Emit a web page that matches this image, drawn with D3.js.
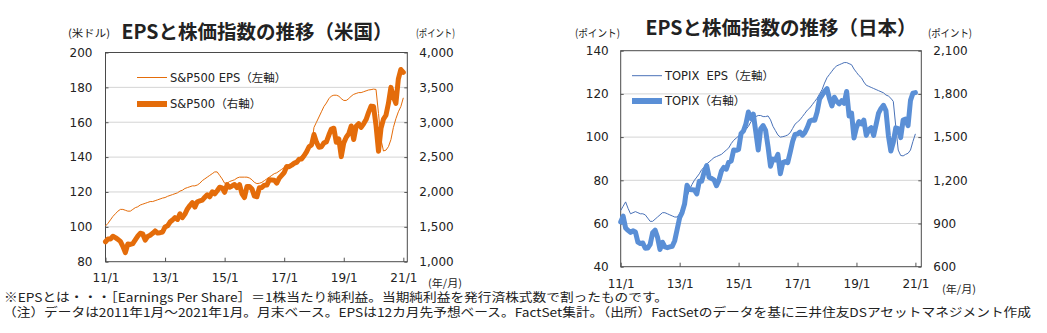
<!DOCTYPE html>
<html><head><meta charset="utf-8">
<script src="https://cdn.jsdelivr.net/npm/d3@7"></script>
<style>
html,body{margin:0;padding:0;background:#fff;}
svg{display:block;}
text{font-family:"DejaVu Sans","Noto Sans CJK JP",sans-serif;fill:#222;white-space:pre;}
.jp{font-family:"Noto Sans CJK JP","DejaVu Sans",sans-serif;}
</style></head>
<body>
<svg id="c" width="1047" height="333"></svg>
<script>
// ---------- DATA ----------
const xTickMonths = [0, 24, 48, 72, 96, 120];
const xTickLabels = ["11/1", "13/1", "15/1", "17/1", "19/1", "21/1"];

// S&P500 month-end (2011/1 - 2021/1)
const sp500 = [
 1286,1327,1326,1364,1345,1321,1292,1219,1131,1253,1247,1258,
 1312,1366,1408,1398,1310,1362,1379,1407,1441,1412,1416,1426,
 1498,1515,1569,1598,1631,1606,1686,1633,1682,1757,1806,1848,
 1783,1859,1872,1884,1924,1960,1931,2003,1972,2018,2068,2059,
 1995,2105,2068,2086,2107,2063,2104,1972,1920,2079,2080,2044,
 1940,1932,2060,2065,2097,2099,2174,2171,2168,2126,2199,2239,
 2279,2364,2363,2384,2412,2423,2470,2472,2519,2575,2648,2674,
 2824,2714,2641,2648,2705,2718,2816,2902,2914,2712,2760,2507,
 2704,2784,2834,2946,2752,2942,2980,2926,2977,3038,3141,3231,
 3226,2954,2585,2912,3044,3100,3271,3500,3363,3270,3622,3756,
 3714];
// S&P500 12m forward EPS (USD)
const spEps = [
 100.5,102,104,106,107.5,109,110,110,109.5,109,109,110,
 111,111.5,112.5,113,113.5,114,114.5,114.5,115,115.5,116,116.5,
 116.8,117.5,118,118.5,119,119.5,120.5,121,122,122.5,123,123.5,
 123.5,124,125,126.5,127.5,128.5,129.5,130.5,131.5,131.5,129.5,127.5,
 125,125,126,126.5,127,128,128.5,128.5,128.5,128.5,128,127,
 125.5,124.8,125,125.5,126.5,127.5,128.5,129.5,130.5,131,132,133,
 134,135,135.5,136.5,137.5,138.5,139.5,140.5,142,143.5,145,146,
 157,160,163,166,169,171,173.5,175,175.5,175.5,175,173.5,
 172.5,172.5,173.5,175,176,176.5,177,177,177.5,178,178.5,178.7,
 179,178.8,165,150,143.5,144,146,150,157,162,166,169,
 174];
// TOPIX month-end
const topix = [
 910,951,869,852,838,849,841,771,761,764,728,729,
 755,836,854,804,719,770,737,732,737,742,781,860,
 940,976,1035,1165,1136,1134,1132,1106,1194,1194,1259,1302,
 1221,1212,1203,1162,1201,1263,1289,1278,1326,1334,1410,1408,
 1415,1524,1543,1593,1674,1630,1660,1537,1411,1558,1580,1547,
 1432,1298,1347,1341,1380,1246,1323,1330,1323,1393,1469,1519,
 1522,1535,1513,1532,1568,1612,1619,1617,1675,1766,1792,1818,
 1837,1768,1716,1777,1747,1731,1753,1735,1817,1646,1667,1494,
 1567,1608,1592,1618,1512,1551,1565,1512,1588,1667,1699,1721,
 1684,1511,1403,1464,1564,1559,1496,1618,1625,1579,1755,1805,
 1809];
// TOPIX 12m forward EPS (points)
const topixEps = [
 66,68,70,67,64.5,65,65.5,65,64.5,64.5,64,62.5,
 61,61,62,63,64,65,65,64.5,64,63.5,63,63,
 64.5,67,69.5,72.5,75.5,78,80,81.5,83,85,86,87.5,
 88.5,89.5,90.5,91,91.5,92,93,94,95,97,98.5,99.5,
 100.5,101.5,102.5,103.5,105,107,108.5,109.5,110,110,109.5,109.5,
 109.8,108,105,103,101,100,100.2,100.5,101,102,104,106,
 107,108,109.5,111,112.5,113.5,115,116.5,118,120,122,125,
 127.5,129,130.5,132,133,133.5,134,134.5,134.5,134,133.5,131.5,
 130,128.5,127.5,125.5,124,123.5,123,122.5,122,121.5,121,120.5,
 119.5,119,118,116.5,105,94,91.5,91.3,92,92.5,94,98,
 101.5];

const usLeftTicks = [80,100,120,140,160,180,200];
const usRightTicks = [1000,1500,2000,2500,3000,3500,4000];
const jpLeftTicks = [40,60,80,100,120,140];
const jpRightTicks = [600,900,1200,1500,1800,2100];

const notes = [
 "※EPSとは・・・［Earnings Per Share］＝1株当たり純利益。当期純利益を発行済株式数で割ったものです。",
 "（注）データは2011年1月～2021年1月。月末ベース。EPSは12カ月先予想ベース。FactSet集計。（出所）FactSetのデータを基に三井住友DSアセットマネジメント作成"
];

// ---------- DRAW ----------
const svg = d3.select("#c");
svg.append("rect").attr("width",1047).attr("height",333).attr("fill","#fff");
const fmt = d3.format(",");

function unit(g, spec){
  g.append("text").attr("class","jp").attr("x",spec[0]).attr("y",spec[1])
    .attr("font-size",10.5).attr("fill","#333")
    .attr("textLength",spec[3]).attr("lengthAdjust","spacingAndGlyphs").text(spec[2]);
}

function drawChart(cfg){
  const g = svg.append("g");
  const x = d3.scaleLinear().domain([0, cfg.xMax]).range([cfg.x0, cfg.x1]);
  const yL = d3.scaleLinear().domain(d3.extent(cfg.leftTicks)).range([cfg.y1, cfg.y0]);
  const yR = d3.scaleLinear().domain(d3.extent(cfg.rightTicks)).range([cfg.y1, cfg.y0]);

  // gridlines
  g.selectAll(".grid").data(cfg.leftTicks.slice(1,-1)).join("line")
    .attr("x1",cfg.x0).attr("x2",cfg.x1)
    .attr("y1",d=>yL(d)).attr("y2",d=>yL(d))
    .attr("stroke","#d4d4d4").attr("stroke-width",1);

  const aL = g.append("g").attr("transform",`translate(${cfg.x0},0)`)
    .call(d3.axisLeft(yL).tickValues(cfg.leftTicks).tickSize(-3).tickPadding(cfg.lPad).tickFormat(d3.format("d")));
  const aR = g.append("g").attr("transform",`translate(${cfg.x1},0)`)
    .call(d3.axisRight(yR).tickValues(cfg.rightTicks).tickSize(-3).tickPadding(cfg.rPad).tickFormat(fmt));
  const aB = g.append("g").attr("transform",`translate(0,${cfg.y1})`)
    .call(d3.axisBottom(x).tickValues(xTickMonths).tickSize(-4).tickPadding(cfg.bPad).tickFormat((d,i)=>xTickLabels[i]));
  [aL,aR,aB].forEach(a=>{
    a.select(".domain").remove();
    a.selectAll(".tick line").attr("stroke","#555");
    a.selectAll("text").attr("font-size",12).attr("fill","#222")
      .style("font-family",'"DejaVu Sans",sans-serif');
  });
  g.append("rect").attr("x",cfg.x0).attr("y",cfg.y0)
    .attr("width",cfg.x1-cfg.x0).attr("height",cfg.y1-cfg.y0)
    .attr("fill","none").attr("stroke","#4a4a4a").attr("stroke-width",1);

  const lineL = d3.line().x((d,i)=>x(i)).y(d=>yL(d));
  const lineR = d3.line().x((d,i)=>x(i)).y(d=>yR(d));
  g.append("path").datum(cfg.eps).attr("d",lineL)
    .attr("fill","none").attr("stroke",cfg.thinColor).attr("stroke-width",1);
  g.append("path").datum(cfg.idx).attr("d",lineR)
    .attr("fill","none").attr("stroke",cfg.color).attr("stroke-width",5)
    .attr("stroke-linejoin","round").attr("stroke-linecap","round");

  const lg = cfg.legend;
  g.append("line").attr("x1",lg.x).attr("x2",lg.x+30).attr("y1",lg.y1).attr("y2",lg.y1)
    .attr("stroke",cfg.thinColor).attr("stroke-width",1);
  g.append("text").attr("x",lg.x+33).attr("y",lg.y1).attr("dy","0.36em")
    .attr("font-size",11.5).text(lg.t1);
  g.append("line").attr("x1",lg.x).attr("x2",lg.x+30).attr("y1",lg.y2).attr("y2",lg.y2)
    .attr("stroke",cfg.color).attr("stroke-width",6);
  g.append("text").attr("x",lg.x+33).attr("y",lg.y2).attr("dy","0.36em")
    .attr("font-size",11.5).text(lg.t2);

  g.append("text").attr("class","jp").attr("x",cfg.titleX).attr("y",cfg.titleY)
    .attr("text-anchor","middle").attr("font-size",19.5).attr("font-weight","bold")
    .attr("fill","#111").text(cfg.title);
  unit(g, cfg.uL); unit(g, cfg.uR); unit(g, cfg.ym);
}

drawChart({
  x0:105.5, x1:407.3, y0:52.5, y1:261.7, xMax:121.6,
  leftTicks:usLeftTicks, rightTicks:usRightTicks,
  lPad:13, rPad:12, bPad:12,
  eps:spEps, idx:sp500, color:"#E46C0A", thinColor:"#E46C0A",
  legend:{x:137, y1:77.5, y2:104, t1:"S&P500 EPS（左軸）", t2:"S&P500（右軸）"},
  title:"EPSと株価指数の推移（米国）", titleX:257, titleY:39,
  uL:[68,37,"(米ドル)",42], uR:[416,37,"(ポイント)",39], ym:[428,287,"(年/月)",34]
});
drawChart({
  x0:620.7, x1:921.3, y0:50.7, y1:266.7, xMax:122.4,
  leftTicks:jpLeftTicks, rightTicks:jpRightTicks,
  lPad:12, rPad:12, bPad:13,
  eps:topixEps, idx:topix, color:"#5A8FD6", thinColor:"#4A72B8",
  legend:{x:632, y1:75.7, y2:101, t1:"TOPIX  EPS（左軸）", t2:"TOPIX（右軸）"},
  title:"EPSと株価指数の推移（日本）", titleX:781, titleY:35,
  uL:[575,37,"(ポイント)",45], uR:[928,37,"(ポイント)",44], ym:[942,293,"(年/月)",34]
});

svg.append("text").attr("class","jp").attr("x",4).attr("y",302)
  .attr("font-size",12).attr("textLength",664).attr("lengthAdjust","spacingAndGlyphs")
  .attr("fill","#111").text(notes[0]);
svg.append("text").attr("class","jp").attr("x",3).attr("y",317)
  .attr("font-size",12).attr("textLength",1028).attr("lengthAdjust","spacingAndGlyphs")
  .attr("fill","#111").text(notes[1]);
</script>
</body></html>
